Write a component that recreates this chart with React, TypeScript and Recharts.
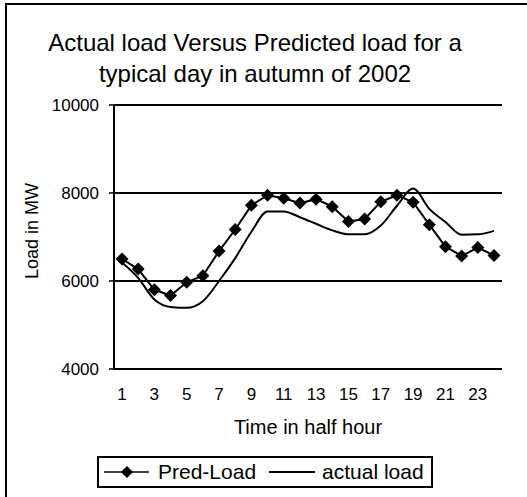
import React from "react";
import { CartesianGrid, Label, Legend, Line, LineChart, ReferenceLine, XAxis, YAxis } from "recharts";

const halfHours = ["1", "2", "3", "4", "5", "6", "7", "8", "9", "10", "11", "12", "13", "14", "15", "16", "17", "18", "19", "20", "21", "22", "23", "24"];
const predLoad = [6500, 6270, 5800, 5670, 5970, 6120, 6680, 7170, 7720, 7950, 7880, 7770, 7860, 7690, 7350, 7410, 7800, 7950, 7790, 7280, 6780, 6570, 6760, 6580];
const actualLoad = [6420, 6070, 5580, 5410, 5390, 5540, 6000, 6520, 7120, 7580, 7580, 7450, 7300, 7150, 7060, 7060, 7260, 7710, 8100, 7640, 7340, 7050, 7060, 7140];
const loadTicks = [4000, 6000, 8000, 10000];
// tick marks sit between the half hours, like the old spreadsheet chart
const edgeTicks = [0, ...halfHours.map((_, i) => i + 1)].map((v) => v + 0.5);

const data = halfHours.map((t, i) => ({ t, pred: predLoad[i], actual: actualLoad[i] }));

const font = "'Liberation Sans', Arial, sans-serif";

function Diamond(props: any) {
  const { cx, cy } = props;
  if (cx == null || cy == null) return null;
  const r = 6.5;
  return <path d={`M${cx},${cy - r}L${cx + r},${cy}L${cx},${cy + r}L${cx - r},${cy}Z`} fill="#000" />;
}

function YTitle(props: any) {
  const vb = props.viewBox;
  if (!vb) return null;
  const x = vb.x + 32;
  const y = vb.y + vb.height / 2 - 6;
  return (
    <text x={x} y={y} transform={`rotate(-90 ${x} ${y})`} textAnchor="middle" dominantBaseline="central" fontSize={18} fontFamily={font} fill="#000">
      Load in MW
    </text>
  );
}

function LegendBox() {
  return (
    <div style={{ boxSizing: "border-box", width: 336, height: 32, border: "2px solid #000", display: "flex", alignItems: "center", fontFamily: font, fontSize: 21, color: "#000", background: "#fff" }}>
      <svg width={48} height={14} style={{ marginLeft: 5 }}>
        <line x1={0} y1={7} x2={45} y2={7} stroke="#000" strokeWidth={1.5} />
        <path d="M23,1L29,7L23,13L17,7Z" fill="#000" />
      </svg>
      <span style={{ marginLeft: 6 }}>Pred-Load</span>
      <svg width={50} height={14} style={{ marginLeft: 11 }}>
        <line x1={2} y1={7} x2={48} y2={7} stroke="#000" strokeWidth={2} />
      </svg>
      <span style={{ marginLeft: 5 }}>actual load</span>
    </div>
  );
}

export default function App() {
  return (
    <div style={{ position: "absolute", left: 0, top: 0, width: 527, height: 497, background: "#fff", overflow: "hidden" }}>
      <div style={{ position: "absolute", left: 5, top: 3, width: 530, height: 510, borderLeft: "2px solid #000", borderTop: "2px solid #000" }} />
      <div style={{ position: "absolute", left: 0, top: 27, width: 510, textAlign: "center", fontFamily: font, fontSize: 24, lineHeight: "31px", color: "#000" }}>
        Actual load Versus Predicted load for a<br />typical day in autumn of 2002
      </div>
      <div style={{ position: "absolute", left: 0, top: 0 }}>
        <LineChart width={527} height={497} data={data} margin={{ top: 105, right: 25, bottom: 63, left: 0 }}>
          <CartesianGrid vertical={false} stroke="#000" strokeWidth={2} />
          <XAxis
            dataKey="t"
            interval={1}
            height={65}
            padding={{ left: 8, right: 8 }}
            tickLine={false}
            tickMargin={13}
            axisLine={{ stroke: "#000", strokeWidth: 2 }}
            tick={{ fontSize: 17, fill: "#000", fontFamily: font }}
            label={{ value: "Time in half hour", position: "insideBottom", offset: 0, fontSize: 20, fill: "#000", fontFamily: font }}
          />
          <XAxis
            xAxisId="edges"
            type="number"
            domain={[0.5, 24.5]}
            allowDataOverflow
            ticks={edgeTicks}
            mirror
            height={0}
            tickSize={-5}
            tick={false}
            axisLine={false}
            tickLine={{ stroke: "#000", strokeWidth: 1.5 }}
          />
          <YAxis
            width={114}
            domain={[4000, 10000]}
            ticks={loadTicks}
            allowDataOverflow
            tickSize={5}
            tickMargin={10}
            axisLine={{ stroke: "#000", strokeWidth: 2 }}
            tickLine={{ stroke: "#000", strokeWidth: 1.5 }}
            tick={{ fontSize: 17, fill: "#000", fontFamily: font }}
          >
            <Label content={<YTitle />} />
          </YAxis>
          <ReferenceLine xAxisId="edges" x={24.5} stroke="#000" strokeWidth={1.5} />
          <Legend
            layout="horizontal"
            verticalAlign="middle"
            align="center"
            wrapperStyle={{ left: 97, top: 456, width: 336, height: 32 }}
            content={() => <LegendBox />}
          />
          <Line dataKey="actual" type="monotone" stroke="#000" strokeWidth={2} dot={false} isAnimationActive={false} />
          <Line dataKey="pred" type="linear" stroke="#000" strokeWidth={2} dot={<Diamond />} isAnimationActive={false} />
        </LineChart>
      </div>
    </div>
  );
}
